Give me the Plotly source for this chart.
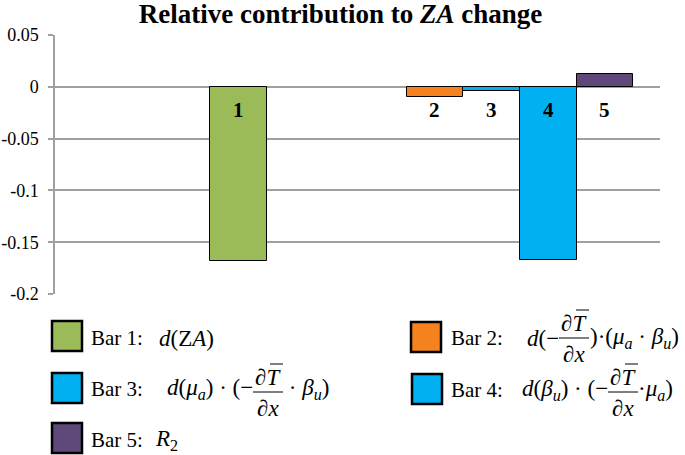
import plotly.graph_objects as go

# ---- data ----
bar_labels = ["1", "2", "3", "4", "5"]
bar_values = [-0.1685, -0.0096, -0.0041, -0.167, 0.0122]
bar_slots = [3.24, 6.70, 7.70, 8.70, 9.70]
bar_colors = ["#9BBB59", "#F5821F", "#00B0F0", "#00B0F0", "#5F497A"]
y_ticks = [0.05, 0, -0.05, -0.1, -0.15, -0.2]
y_tick_text = ["0.05", "0", "-0.05", "-0.1", "-0.15", "-0.2"]
title_text = "<b>Relative contribution to <i>ZA</i> change</b>"

W, H = 685, 455
L, R, T, B = 55, 660, 35, 294
FONT = "Liberation Serif"


def px(x):
    return (x - L) / (R - L)


def py(y):
    return (B - y) / (B - T)


fig = go.Figure()
fig.add_trace(go.Bar(
    x=bar_slots, y=bar_values, width=1.0,
    marker=dict(color=bar_colors, line=dict(color="black", width=1)),
    showlegend=False, hoverinfo="skip",
))

annotations = []
shapes = []

# labels inside bars
for xs, lab in zip(bar_slots, bar_labels):
    annotations.append(dict(x=xs, y=-0.0225, xref="x", yref="y", text="<b>%s</b>" % lab,
                            showarrow=False, font=dict(family=FONT, size=21, color="black"),
                            xanchor="center", yanchor="middle", borderpad=0, borderwidth=0))


def txt(x, y, s, anchor="left", size=23):
    annotations.append(dict(x=px(x), y=py(y), xref="paper", yref="paper", text=s,
                            showarrow=False, font=dict(family=FONT, size=size, color="black"),
                            xanchor=anchor, yanchor="middle", borderpad=0, borderwidth=0))


def box(x0, y0, color):
    shapes.append(dict(type="rect", xref="paper", yref="paper",
                       x0=px(x0), x1=px(x0 + 30), y0=py(y0), y1=py(y0 + 30),
                       fillcolor=color, line=dict(color="black", width=2.5)))


def frac(cx, ybar):
    # fraction  dT/dx  with overline on T
    shapes.append(dict(type="line", xref="paper", yref="paper",
                       x0=px(cx - 15), x1=px(cx + 15), y0=py(ybar), y1=py(ybar),
                       line=dict(color="black", width=1)))
    txt(cx, ybar - 15, "∂<i>T</i>", anchor="center")
    shapes.append(dict(type="line", xref="paper", yref="paper",
                       x0=px(cx + 2), x1=px(cx + 15), y0=py(ybar - 28), y1=py(ybar - 28),
                       line=dict(color="black", width=1)))
    txt(cx, ybar + 16, "∂<i>x</i>", anchor="center")


MINUS = "\u2212"
DOT = "\u00b7"
LAB = 21

# Row 1
box(52, 321, "#9BBB59")
txt(91, 338, "Bar 1:", size=LAB)
txt(159, 338, "<i>d</i>(Z<i>A</i>)")
# Row 2
box(411, 322, "#F5821F")
txt(451, 338, "Bar 2:", size=LAB)
txt(559, 338, "<i>d</i>(" + MINUS, anchor="right")
frac(574, 338)
txt(590, 338, ")" + DOT + "(<i>μ</i><sub><i>a</i></sub> " + DOT + " <i>β</i><sub><i>u</i></sub>)")
# Row 3
box(52, 373, "#00B0F0")
txt(91, 389, "Bar 3:", size=LAB)
txt(253, 389, "<i>d</i>(<i>μ</i><sub><i>a</i></sub>) " + DOT + " (" + MINUS, anchor="right")
frac(268, 392)
txt(283, 389, " " + DOT + " <i>β</i><sub><i>u</i></sub>)")
# Row 4
box(412, 374, "#00B0F0")
txt(451, 390, "Bar 4:", size=LAB)
txt(608, 390, "<i>d</i>(<i>β</i><sub><i>u</i></sub>) " + DOT + " (" + MINUS, anchor="right")
frac(623, 392)
txt(638, 390, DOT + "<i>μ</i><sub><i>a</i></sub>)")
# Row 5
box(52, 423, "#5F497A")
txt(91, 440, "Bar 5:", size=LAB)
txt(155, 440, "<i>R</i><sub>2</sub>")

fig.update_layout(
    template="none",
    width=W, height=H, autosize=False,
    margin=dict(l=L, r=W - R, t=T, b=H - B, pad=0),
    paper_bgcolor="white", plot_bgcolor="white",
    title=dict(text=title_text, x=0.497, xref="container", xanchor="center",
               y=1 - 14 / H, yref="container", yanchor="middle",
               font=dict(family=FONT, size=27, color="black")),
    xaxis=dict(range=[0, (R - L) / 56.7], showgrid=False, zeroline=False,
               showticklabels=False, ticks="", showline=False, fixedrange=True,
               automargin=False),
    yaxis=dict(range=[-0.2, 0.05], tickvals=y_ticks, ticktext=y_tick_text,
               showgrid=True, gridcolor="#A0A0A0", gridwidth=1.5,
               zeroline=False, showline=True, linecolor="#A0A0A0", linewidth=1.5,
               ticks="outside", ticklen=5, tickcolor="#A0A0A0", tickwidth=1.5,
               ticklabelstandoff=6, automargin=False,
               tickfont=dict(family=FONT, size=18, color="black"), fixedrange=True),
    annotations=annotations, shapes=shapes,
    bargap=0,
)

fig.write_html("out.html", config={"displayModeBar": False},
               post_script="document.body.style.margin='0px';")
